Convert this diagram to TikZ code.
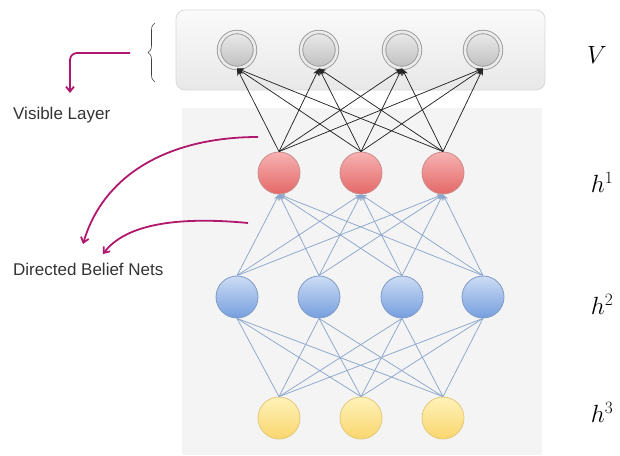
\documentclass[tikz,border=0pt]{standalone}
\usepackage{fontspec}
\setmainfont{Liberation Sans}
\usetikzlibrary{arrows.meta,decorations.pathreplacing}
\definecolor{pinkarrow}{HTML}{B0186E}
\definecolor{edgeblue}{HTML}{8CA6CC}
\definecolor{panelgray}{HTML}{F4F4F4}
\tikzset{
  unit/.style={circle, minimum size=42pt, inner sep=0pt, line width=0.8pt},
  visunit/.style={circle, minimum size=36pt, inner sep=0pt, draw=black!40,
    line width=0.9pt, double=black!8, double distance=2.6pt,
    top color=black!8, bottom color=black!25},
  redunit/.style={unit, draw=red!55!black!45, top color={rgb,255:red,247;green,178;blue,178}, bottom color={rgb,255:red,228;green,104;blue,104}},
  blueunit/.style={unit, draw={rgb,255:red,125;green,155;blue,200}, top color={rgb,255:red,204;green,220;blue,244}, bottom color={rgb,255:red,118;green,158;blue,222}},
  yellowunit/.style={unit, draw={rgb,255:red,228;green,200;blue,120}, top color={rgb,255:red,255;green,242;blue,186}, bottom color={rgb,255:red,250;green,214;blue,110}},
  vedge/.style={draw=black!85, line width=0.75pt, -{Stealth[length=7pt,width=6pt]}},
  hedge/.style={draw=edgeblue, line width=0.75pt, -{Stealth[length=6pt,width=5pt]}},
  bedge/.style={draw=edgeblue, line width=0.75pt},
  pointer/.style={draw=pinkarrow, line width=1.8pt, -{Straight Barb[length=5pt,width=8pt]}},
  caption/.style={font=\fontsize{17}{20}\selectfont, text=black!80, anchor=west, inner sep=0pt},
  layername/.style={font=\fontsize{25}{28}\selectfont, inner sep=0pt}
}
\begin{document}
\begin{tikzpicture}[x=1pt, y=-1pt]
\useasboundingbox (0,0) rectangle (620,455);

% panels
\fill[panelgray] (182,108) rectangle (542,455);
\draw[black!15, rounded corners=9pt, top color=black!2, bottom color=black!9, line width=0.8pt]
  (176,10) rectangle (545,90);

% visible units
\foreach \n/\x in {1/237, 2/319, 3/402, 4/483}
  \node[visunit] (v\n) at (\x,50) {};
% hidden layer 1
\foreach \n/\x in {1/279, 2/361, 3/443}
  \node[redunit] (a\n) at (\x,173) {};
% hidden layer 2
\foreach \n/\x in {1/237, 2/319, 3/402, 4/483}
  \node[blueunit] (b\n) at (\x,297) {};
% hidden layer 3
\foreach \n/\x in {1/279, 2/361, 3/443}
  \node[yellowunit] (c\n) at (\x,418) {};

% connections
\foreach \i in {1,2,3}
  \foreach \j in {1,2,3,4}
    \draw[vedge] (a\i.north) -- (v\j.south);
\foreach \j in {1,2,3,4}
  \foreach \i in {1,2,3}
    \draw[hedge] (b\j.north) -- (a\i.south);
\foreach \i in {1,2,3}
  \foreach \j in {1,2,3,4}
    \draw[bedge] (c\i.north) -- (b\j.south);

% layer names
\node[layername] (lv) at (597,55) {$V$};
\node[layername] (l1) at (602,182) {$h^1$};
\node[layername] (l2) at (602,304) {$h^2$};
\node[layername] (l3) at (602,412) {$h^3$};

% brace and annotations
\draw[black!75, line width=0.6pt, decorate, decoration={brace, amplitude=7pt}]
  (155,82) -- (155,23);
\node[caption] (vis) at (13,115) {Visible Layer};
\node[caption] (dbn) at (13,269) {Directed Belief Nets};
\coordinate (p0) at (130,53);
\coordinate (p1) at (70,53);
\coordinate (p2) at (70,93);
\draw[pointer, rounded corners=7pt] (p0) -- (p1) -- (p2);
\coordinate (q0) at (258,137);
\coordinate (q1) at (83,244);
\draw[pointer] (q0) .. controls (175,137) and (105,170) .. (q1);
\coordinate (r0) at (248,223);
\coordinate (r1) at (103,254);
\draw[pointer] (r0) .. controls (175,216) and (125,225) .. (r1);
\end{tikzpicture}
\end{document}
